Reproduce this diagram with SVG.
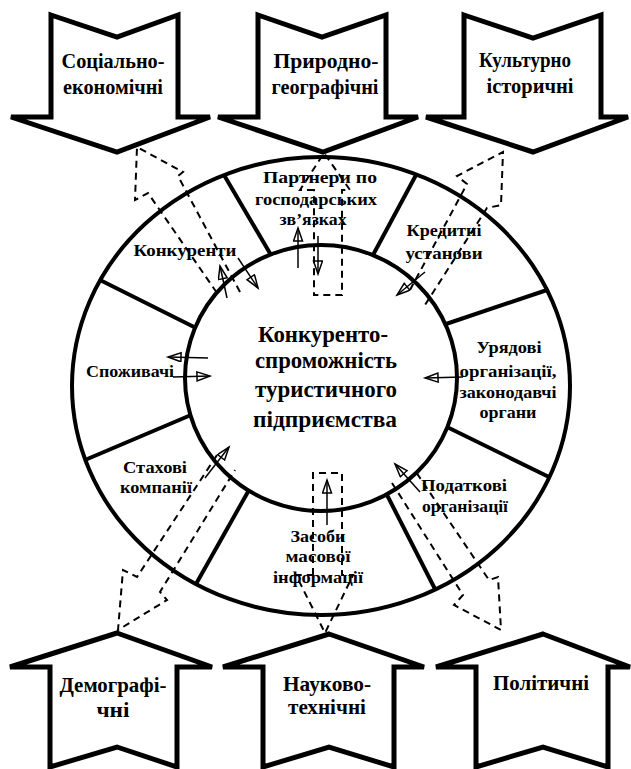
<svg xmlns="http://www.w3.org/2000/svg" width="631" height="769" viewBox="0 0 631 769">
<style>
.blk{fill:#fff;stroke:#000;stroke-width:5;stroke-linejoin:miter}
.t{font-family:"Liberation Serif","Times New Roman",serif;font-weight:bold;fill:#000;text-anchor:middle}
.f{font-size:21px}
.r{font-size:17px}
.c{font-size:24px}
.ring{fill:#fff;stroke:#000;stroke-width:4}
.spoke{stroke:#000;stroke-width:4;fill:none}
.dash{fill:none;stroke:#000;stroke-width:2;stroke-dasharray:7 5}
.sol{fill:none;stroke:#000;stroke-width:1.5;marker-end:url(#ah)}
</style>
<defs>
<marker id="ah" markerUnits="userSpaceOnUse" markerWidth="18" markerHeight="12" refX="14" refY="5" orient="auto"><path d="M1,0.5 L14,5 L1,9.5 Z" fill="none" stroke="#000" stroke-width="1.5"/></marker>
</defs>
<rect width="631" height="769" fill="#fff"/>

<g id="ring">
<ellipse class="ring" cx="321" cy="386" rx="249" ry="229"/>
<line class="spoke" x1="224" y1="175" x2="271" y2="255"/>
<line class="spoke" x1="416" y1="175" x2="373" y2="255"/>
<line class="spoke" x1="547" y1="290" x2="446" y2="324"/>
<line class="spoke" x1="549" y1="477" x2="447" y2="427"/>
<line class="spoke" x1="435" y1="589" x2="386" y2="493"/>
<line class="spoke" x1="196" y1="584" x2="249" y2="490"/>
<line class="spoke" x1="85" y1="460" x2="191" y2="415"/>
<line class="spoke" x1="100" y1="280" x2="196" y2="328"/>
<ellipse class="ring" cx="321" cy="378" rx="136" ry="133"/>
</g>

<g id="f-social"><path class="blk" d="M51,15 L117,37 L178,15 L178,117 L210,117 L117,152 L11,117 L51,117 Z"/>
<text class="t f" x="113" y="68" textLength="103" lengthAdjust="spacingAndGlyphs">Соціально-</text>
<text class="t f" x="113" y="94" textLength="100" lengthAdjust="spacingAndGlyphs">економічні</text></g>
<g id="f-nature"><path class="blk" d="M258,15 L322,37 L386,15 L386,117 L418,117 L323,152 L218,117 L258,117 Z"/>
<text class="t f" x="326" y="68" textLength="105" lengthAdjust="spacingAndGlyphs">Природно-</text>
<text class="t f" x="325" y="94" textLength="107" lengthAdjust="spacingAndGlyphs">географічні</text></g>
<g id="f-culture"><path class="blk" d="M464,15 L533,38 L601,15 L601,117 L628,117 L533,152 L426,117 L464,117 Z"/>
<text class="t f" x="525" y="67" textLength="92" lengthAdjust="spacingAndGlyphs">Культурно</text>
<text class="t f" x="530" y="93" textLength="87" lengthAdjust="spacingAndGlyphs">історичні</text></g>
<g id="f-demo"><path class="blk" d="M117,633 L212,667 L177,667 L177,767 L117,747 L50,767 L50,667 L10,667 Z"/>
<text class="t f" x="113" y="692" textLength="107" lengthAdjust="spacingAndGlyphs">Демографі-</text>
<text class="t f" x="113" y="717" textLength="33" lengthAdjust="spacingAndGlyphs">чні</text></g>
<g id="f-tech"><path class="blk" d="M329,634 L424,667 L394,667 L394,767 L329,747 L263,767 L263,667 L223,667 Z"/>
<text class="t f" x="327" y="691" textLength="88" lengthAdjust="spacingAndGlyphs">Науково-</text>
<text class="t f" x="327" y="714" textLength="78" lengthAdjust="spacingAndGlyphs">технічні</text></g>
<g id="f-polit"><path class="blk" d="M543,634 L630,667 L608,667 L608,767 L543,747 L476,767 L476,667 L436,667 Z"/>
<text class="t f" x="541" y="690" textLength="96" lengthAdjust="spacingAndGlyphs">Політичні</text></g>

<g id="connectors">
<polyline class="dash" points="240,292 178,176 183,172 137,147 135,200 148,193 217,293"/>
<path class="dash" d="M314,190 L300,190 L324,153 L350,190 L342,190 L342,295 L314,295 Z"/>
<polyline class="dash" points="410,290 467,184 457,176 503,152 501,205 487,208 425,305"/>
<polyline class="dash" points="217,455 137,577 123,570 118,630 167,600 160,592 235,470"/>
<path class="dash" d="M313,575 L313,473 L342,473 L342,575 L353,575 L325,633 L296,575 Z"/>
<polyline class="dash" points="392,483 463,595 454,605 501,630 498,577 489,580 416,472"/>
<line class="sol" x1="227" y1="298" x2="220" y2="266"/>
<line class="sol" x1="238" y1="258" x2="258" y2="288"/>
<line class="sol" x1="298" y1="268" x2="298" y2="228"/>
<line class="sol" x1="318" y1="236" x2="318" y2="274"/>
<line class="sol" x1="425" y1="272" x2="397" y2="295"/>
<line class="sol" x1="205" y1="478" x2="229" y2="447"/>
<line class="sol" x1="327" y1="525" x2="327" y2="480"/>
<line class="sol" x1="420" y1="492" x2="395" y2="464"/>
<line class="sol" x1="463" y1="377" x2="425" y2="378"/>
<line class="sol" x1="208" y1="358" x2="168" y2="357"/>
<line class="sol" x1="173" y1="377" x2="210" y2="376"/>
</g>

<g id="s-partners">
<text class="t r" x="320" y="183" textLength="114" lengthAdjust="spacingAndGlyphs">Партнери по</text>
<text class="t r" x="316" y="205" textLength="122" lengthAdjust="spacingAndGlyphs">господарських</text>
<text class="t r" x="313" y="225" textLength="67" lengthAdjust="spacingAndGlyphs">зв’язках</text></g>
<g id="s-credit">
<text class="t r" x="444" y="236" textLength="75" lengthAdjust="spacingAndGlyphs">Кредитні</text>
<text class="t r" x="444" y="259" textLength="77" lengthAdjust="spacingAndGlyphs">установи</text></g>
<g id="s-compet">
<text class="t r" x="185" y="256" textLength="103" lengthAdjust="spacingAndGlyphs">Конкуренти</text></g>
<g id="s-consum">
<text class="t r" x="130" y="377" textLength="88" lengthAdjust="spacingAndGlyphs">Споживачі</text></g>
<g id="s-insur">
<text class="t r" x="155" y="473" textLength="64" lengthAdjust="spacingAndGlyphs">Стахові</text>
<text class="t r" x="156" y="493" textLength="72" lengthAdjust="spacingAndGlyphs">компанії</text></g>
<g id="s-gov">
<text class="t r" x="509" y="353" textLength="65" lengthAdjust="spacingAndGlyphs">Урядові</text>
<text class="t r" x="508" y="377" textLength="97" lengthAdjust="spacingAndGlyphs">організації,</text>
<text class="t r" x="508" y="398" textLength="97" lengthAdjust="spacingAndGlyphs">законодавчі</text>
<text class="t r" x="508" y="418" textLength="57" lengthAdjust="spacingAndGlyphs">органи</text></g>
<g id="s-tax">
<text class="t r" x="464" y="491" textLength="86" lengthAdjust="spacingAndGlyphs">Податкові</text>
<text class="t r" x="465" y="512" textLength="86" lengthAdjust="spacingAndGlyphs">організації</text></g>
<g id="s-media">
<text class="t r" x="318" y="542" textLength="55" lengthAdjust="spacingAndGlyphs">Засоби</text>
<text class="t r" x="318" y="562" textLength="65" lengthAdjust="spacingAndGlyphs">масової</text>
<text class="t r" x="318" y="583" textLength="90" lengthAdjust="spacingAndGlyphs">інформації</text></g>
<g id="center">
<text class="t c" x="323" y="342" textLength="130" lengthAdjust="spacingAndGlyphs">Конкуренто-</text>
<text class="t c" x="326" y="368" textLength="142" lengthAdjust="spacingAndGlyphs">спроможність</text>
<text class="t c" x="326" y="397" textLength="142" lengthAdjust="spacingAndGlyphs">туристичного</text>
<text class="t c" x="325" y="427" textLength="144" lengthAdjust="spacingAndGlyphs">підприємства</text></g>
</svg>
